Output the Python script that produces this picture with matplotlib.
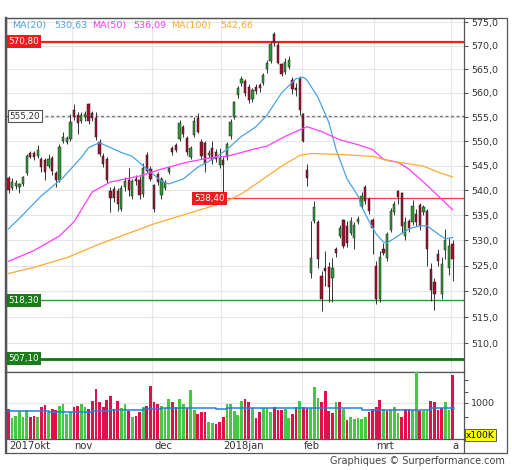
import matplotlib
matplotlib.use("Agg")
import matplotlib.pyplot as plt
import matplotlib.transforms as mtransforms
from matplotlib.lines import Line2D
from matplotlib.patches import Rectangle
from matplotlib.ticker import FixedLocator, FuncFormatter, NullLocator
import numpy as np

# ── daily OHLC, 2017-10-06 .. 2018-04-03 ───────────────────────────────────
opens = [542.6, 540.4, 540.8, 540.6, 541.2, 543.5, 547.6, 547.6, 547.0, 546.4,
         546.2, 545.0, 546.6, 543.6, 542.2, 550.0, 549.8, 550.4, 556.4, 555.4,
         554.2, 555.0, 557.6, 555.8, 554.8, 549.8, 547.0, 546.4, 539.8, 540.2,
         539.8, 536.2, 540.6, 542.0, 538.8, 542.4, 542.2, 539.2, 547.2, 544.4,
         541.0, 543.4, 539.0, 540.4, 543.8, 548.6, 549.2, 550.4, 553.0, 550.6,
         546.8, 551.2, 554.8, 549.8, 549.6, 547.2, 548.6, 547.8, 545.2, 546.2,
         546.8, 551.0, 555.0, 559.6, 562.0, 562.6, 561.3, 558.8, 561.2, 561.6,
         562.1, 565.0, 566.8, 572.4, 570.2, 566.0, 564.4, 565.4, 562.8, 561.0,
         563.2, 555.6, 544.2, 523.6, 533.9, 533.6, 523.0, 524.6, 524.8, 522.6,
         528.4, 530.9, 534.0, 532.8, 531.4, 530.4, 533.6, 536.8, 540.6, 538.2,
         534.0, 525.0, 518.6, 528.4, 526.6, 532.0, 535.6, 539.8, 539.4, 530.8,
         533.8, 533.6, 535.2, 537.0, 535.6, 535.9, 524.3, 521.8, 527.4, 519.6,
         528.2, 524.6, 529.3]
highs = [543.0, 542.5, 542.0, 541.5, 543.0, 547.4, 548.0, 547.9, 549.3, 546.8,
         546.6, 547.3, 547.0, 544.0, 549.4, 551.9, 551.0, 555.6, 557.6, 556.0,
         556.0, 556.2, 558.0, 556.2, 556.0, 550.4, 547.6, 546.8, 540.6, 540.8,
         540.4, 541.0, 542.8, 544.6, 542.4, 543.2, 543.0, 545.6, 547.8, 545.0,
         541.2, 543.8, 542.8, 542.0, 545.0, 549.0, 549.6, 554.4, 553.4, 551.0,
         549.0, 555.0, 555.8, 550.4, 550.0, 548.2, 550.0, 548.4, 548.6, 546.8,
         549.8, 554.6, 558.4, 561.4, 563.6, 563.0, 561.8, 561.0, 561.8, 562.0,
         564.2, 566.9, 570.8, 572.8, 570.8, 566.4, 567.4, 567.8, 563.4, 562.0,
         563.6, 555.8, 545.4, 533.8, 537.9, 534.0, 524.0, 528.0, 525.8, 526.6,
         528.8, 533.0, 534.2, 533.8, 534.6, 533.6, 534.8, 539.6, 541.0, 538.6,
         534.4, 526.0, 528.0, 529.4, 531.6, 536.4, 537.8, 540.0, 539.6, 534.6,
         534.2, 538.0, 536.2, 537.4, 537.0, 536.3, 525.5, 522.6, 528.4, 526.8,
         532.3, 530.4, 530.0]
lows = [539.5, 540.0, 540.2, 539.5, 540.8, 543.2, 546.5, 546.2, 546.6, 543.8,
        542.2, 544.6, 543.2, 540.6, 541.6, 549.6, 549.4, 550.0, 554.4, 551.4,
        553.8, 554.2, 553.6, 554.2, 550.2, 547.0, 544.8, 541.4, 535.6, 537.6,
        535.8, 535.8, 539.8, 538.8, 538.2, 541.0, 538.2, 538.6, 543.8, 541.8,
        535.6, 541.0, 538.2, 540.0, 543.4, 547.2, 547.8, 550.0, 550.8, 547.2,
        546.4, 550.8, 551.6, 546.4, 543.8, 546.6, 545.4, 545.8, 544.6, 538.4,
        546.2, 550.4, 554.6, 559.0, 561.4, 559.4, 558.0, 558.2, 559.8, 560.2,
        561.6, 564.2, 566.4, 570.0, 566.0, 563.6, 564.0, 565.0, 559.8, 559.4,
        555.4, 549.8, 540.8, 522.6, 533.4, 524.6, 516.2, 521.0, 518.0, 518.0,
        526.8, 530.4, 528.6, 528.8, 531.0, 528.4, 533.2, 536.2, 537.2, 535.2,
        527.4, 517.6, 518.0, 527.2, 526.0, 531.6, 535.0, 537.2, 531.4, 530.0,
        531.6, 533.0, 532.8, 532.0, 535.0, 524.9, 518.2, 516.4, 525.0, 518.6,
        526.4, 523.2, 522.1]
closes = [540.0, 541.6, 541.4, 541.2, 542.8, 547.0, 546.8, 546.8, 548.2, 544.8,
          543.8, 546.4, 544.0, 542.0, 548.8, 550.8, 550.6, 554.0, 555.0, 553.8,
          555.4, 555.6, 554.2, 554.8, 550.8, 547.4, 545.4, 542.0, 538.4, 538.4,
          537.2, 540.4, 541.8, 540.0, 541.8, 541.8, 539.0, 544.6, 544.0, 542.4,
          536.2, 541.6, 542.4, 541.6, 544.6, 547.8, 548.2, 553.8, 551.4, 547.8,
          548.6, 554.2, 552.0, 547.0, 545.4, 547.6, 546.2, 546.4, 546.6, 545.2,
          549.4, 554.0, 558.2, 561.0, 563.0, 560.0, 558.5, 560.6, 560.4, 561.0,
          563.8, 566.2, 570.4, 570.6, 566.4, 564.0, 566.6, 567.0, 560.8, 560.6,
          556.4, 550.0, 542.6, 526.6, 536.7, 526.4, 518.6, 524.0, 520.8, 524.6,
          527.6, 532.4, 529.0, 529.4, 533.8, 533.0, 534.2, 538.8, 537.8, 535.8,
          532.4, 518.6, 526.8, 527.6, 531.2, 535.8, 537.2, 538.6, 532.8, 533.6,
          532.4, 536.8, 533.6, 532.8, 536.6, 528.4, 520.2, 519.6, 525.9, 525.3,
          530.0, 529.0, 526.4]

# volume in x100K, and its up/down colouring
volume = [816, 569, 642, 770, 614, 789, 614, 642, 614, 871,
          935, 752, 825, 798, 908, 981, 688, 734, 880, 908,
          981, 880, 825, 1064, 1376, 1027, 880, 1091, 1183, 816,
          1055, 844, 954, 770, 614, 642, 752, 880, 917, 1467,
          1009, 981, 908, 844, 1119, 1009, 871, 1119, 981, 844,
          1366, 798, 679, 752, 734, 459, 431, 404, 459, 614,
          954, 954, 770, 660, 1055, 1119, 1009, 862, 569, 752,
          862, 862, 752, 889, 798, 798, 816, 587, 679, 889,
          1055, 889, 862, 844, 1440, 1146, 1009, 1339, 770, 706,
          1009, 1009, 825, 523, 614, 550, 587, 550, 614, 752,
          825, 889, 1091, 825, 770, 798, 889, 706, 614, 825,
          825, 798, 1900, 770, 770, 770, 1055, 1009, 798, 844,
          1027, 798, 1779]
vol_up = [0, 1, 1, 1, 1, 1, 0, 0, 1, 0, 0, 1, 0, 0, 1, 1, 1, 1, 0, 0,
          1, 1, 0, 0, 0, 0, 0, 0, 0, 0, 0, 1, 1, 0, 1, 0, 0, 1, 0, 0,
          0, 0, 1, 1, 1, 0, 0, 1, 1, 0, 1, 1, 0, 0, 0, 1, 1, 0, 0, 0,
          1, 1, 1, 1, 1, 0, 0, 1, 0, 0, 1, 1, 1, 0, 0, 0, 1, 1, 0, 0,
          1, 0, 0, 1, 1, 1, 0, 0, 0, 0, 1, 0, 1, 0, 1, 1, 1, 1, 1, 0,
          0, 0, 0, 1, 0, 1, 1, 1, 0, 0, 0, 1, 1, 0, 1, 1, 0, 0, 0, 0,
          1, 1, 0]

ma20_idx = [0, 3, 9, 15, 20, 22, 25, 28, 31, 34, 38, 42, 44, 48, 52, 56, 60, 64, 68, 71,
            75, 79, 81, 82, 85, 88, 90, 93, 96, 97, 99, 101, 103, 104, 107, 110, 113,
            115, 118, 120, 122]
ma20_val = [532.3, 534.4, 538.9, 542.6, 546.7, 548.7, 549.7, 548.7, 547.7, 546.9, 544.3,
            541.9, 541.3, 542.3, 544.7, 546.3, 548.3, 551.0, 553.0, 555.4, 560.0, 563.0,
            563.3, 562.7, 559.1, 553.9, 548.3, 542.3, 538.9, 536.7, 533.9, 531.3, 529.7,
            529.5, 530.9, 532.3, 532.9, 532.9, 531.3, 530.3, 530.6]
ma50_idx = [0, 7, 14, 18, 23, 28, 36, 42, 49, 56, 60, 64, 68, 71, 76, 82, 86, 91, 96,
            100, 103, 107, 110, 114, 118, 122]
ma50_val = [525.9, 528.0, 530.9, 533.7, 539.7, 541.7, 542.9, 544.3, 545.7, 546.7, 546.9,
            547.7, 548.5, 549.0, 551.0, 553.0, 552.0, 550.3, 549.3, 548.3, 546.3, 545.7,
            544.3, 541.7, 538.9, 536.1]
ma100_idx = [0, 7, 16, 25, 34, 40, 49, 59, 64, 68, 75, 80, 83, 91, 100, 105, 109, 114,
             118, 122]
ma100_val = [523.5, 524.7, 526.6, 529.3, 531.7, 533.3, 535.3, 537.5, 539.3, 541.3, 544.9,
             547.1, 547.5, 547.3, 546.9, 545.9, 545.5, 544.9, 543.7, 542.7]
volma_idx = [-0.5, 11, 23, 28, 37, 42, 57, 60, 97, 111, 116, 122.5]
volma_val = [770, 734, 770, 789, 816, 844, 816, 844, 807, 789, 844, 844]

# support / resistance levels
res_high, res_mid, res_low = 570.80, 555.20, 538.40
sup_high, sup_low = 518.30, 507.10

month_idx = [0, 18, 40, 59, 81, 101, 122]
month_lbl = ["2017okt", "nov", "dec", "2018jan", "feb", "mrt", "a"]
price_ticks = [510, 515, 520, 525, 530, 535, 540, 545, 550, 555, 560, 565, 570, 575]

GREEN, RED, WICK = "#2f9a34", "#a3102e", "#333333"
VGREEN, VRED = "#46c846", "#e0104c"
C20, C50, C100 = "#4aa3e6", "#ff3cff", "#ffaa30"
GRID, FRAME, TXT = "#e6e6e6", "#555555", "#333333"

W, H = 512, 470
def rect(x0, y0, x1, y1):
    return [x0 / W, 1 - y1 / H, (x1 - x0) / W, (y1 - y0) / H]

fig = plt.figure(figsize=(W / 100, H / 100), dpi=100)
fig.patch.set_facecolor("white")
ax = fig.add_axes(rect(6, 18, 464, 372))
axv = fig.add_axes(rect(6, 372, 464, 439), sharex=ax)

x = np.arange(len(closes))
o, h, l, c = map(np.array, (opens, highs, lows, closes))
up = c >= o

# ── price pane ───────────────────────────────────────────────────────────
ax.set_yscale("log")
ax.set_ylim(504.6, 575.9)
ax.set_xlim(-0.69, 125.13)

bounds = [m - 0.5 for m in month_idx[1:]]
ax.set_xticks(bounds)
ax.tick_params(axis="x", length=0, labelbottom=False)
ax.grid(axis="both", color=GRID, lw=0.8, zorder=0)
ax.set_axisbelow(True)

ax.yaxis.tick_right()
ax.yaxis.set_major_locator(FixedLocator(price_ticks))
ax.yaxis.set_minor_locator(NullLocator())
ax.yaxis.set_major_formatter(FuncFormatter(lambda v, p: f"{v:.1f}".replace(".", ",")))
ax.tick_params(axis="y", length=3, width=0.8, color=FRAME, pad=2, labelsize=6.8,
               labelcolor=TXT)

ax.vlines(x, l, h, color=WICK, lw=0.7, zorder=3)
ax.bar(x, np.maximum(np.abs(c - o), 0.25), bottom=np.minimum(o, c), width=0.62,
       color=np.where(up, GREEN, RED), edgecolor="#1e1e1e", linewidth=0.35, zorder=4)

ax.plot(ma20_idx, ma20_val, color=C20, lw=0.9, zorder=5)
ax.plot(ma50_idx, ma50_val, color=C50, lw=0.9, zorder=5)
ax.plot(ma100_idx, ma100_val, color=C100, lw=0.9, zorder=5)

ax.axhline(res_high, color="#ff1a1a", lw=1.6, zorder=2)
ax.axhline(res_mid, color="#777777", lw=1.0, ls=(0, (2.2, 1.8)), zorder=2)
ax.hlines(res_low, 60, 125.2, color="#ff3a3a", lw=0.9, zorder=2)
ax.axhline(sup_high, color="#2aa02a", lw=1.0, zorder=2)
ax.axhline(sup_low, color="#0b7a0b", lw=2.0, zorder=2)

lvl = mtransforms.blended_transform_factory(ax.transAxes, ax.transData)
def level_label(xv, yv, s, fc, tc="white", ec="none", tr=lvl):
    ax.text(xv, yv, s, transform=tr, ha="left", va="center", fontsize=6.3, color=tc,
            zorder=7, bbox=dict(boxstyle="square,pad=0.22", fc=fc, ec=ec, lw=0.8))

level_label(0.006, res_high, "570,80", "#ee1c1c")
level_label(0.008, res_mid, "555,20", "white", tc=TXT, ec="#555555")
level_label(51.0, res_low, "538,40", "#ee1c1c", tr=ax.transData)
level_label(0.006, sup_high, "518,30", "#1a7d1a")
level_label(0.006, sup_low, "507,10", "#1a7d1a")

for s in ax.spines.values():
    s.set_color(FRAME)
    s.set_linewidth(0.9)
ax.spines["left"].set_linewidth(1.6)

# ── volume pane ──────────────────────────────────────────────────────────
axv.set_ylim(0, 1852)
axv.bar(x, volume, width=0.74, color=np.where(np.array(vol_up) == 1, VGREEN, VRED),
        linewidth=0, zorder=3)
axv.step(volma_idx, volma_val, where="post", color="#1f7fe0", lw=1.1, zorder=4)
axv.axhline(1000, color=GRID, lw=0.8, zorder=0)
axv.set_xticks(bounds)
axv.grid(axis="x", color=GRID, lw=0.8, zorder=0)
axv.set_axisbelow(True)
axv.tick_params(axis="x", length=0, labelbottom=False)
axv.yaxis.tick_right()
axv.yaxis.set_major_locator(FixedLocator([600, 1000, 1300, 1620]))
axv.yaxis.set_major_formatter(FuncFormatter(lambda v, p: "1000" if v == 1000 else ""))
axv.tick_params(axis="y", length=3, width=0.8, color=FRAME, pad=2, labelsize=6.8,
                labelcolor=TXT)
for s in axv.spines.values():
    s.set_color(FRAME)
    s.set_linewidth(0.9)
axv.spines["left"].set_linewidth(1.6)

mt = mtransforms.blended_transform_factory(axv.transData, axv.transAxes)
for i, (m, s) in enumerate(zip(month_idx, month_lbl)):
    xm = m - 0.5 + 0.55 if i else 0.3
    axv.text(xm, -0.11, s, transform=mt, ha="left", va="center", fontsize=7.2, color=TXT)

# ── frame, legend, footer ────────────────────────────────────────────────
fig.add_artist(Rectangle((6 / W, 1 - 453 / H), 501 / W, 435 / H, transform=fig.transFigure,
                         fill=False, ec=FRAME, lw=0.9))
fig.add_artist(Line2D([464 / W, 464 / W], [1 - 453 / H, 1 - 439 / H],
                      transform=fig.transFigure, color=FRAME, lw=0.9))
fig.add_artist(Line2D([6 / W, 6 / W], [1 - 453 / H, 1 - 18 / H],
                      transform=fig.transFigure, color=FRAME, lw=1.6))

for px, s, col in [(12.5, "MA(20)", C20), (54, "530,63", C20),
                   (92, "MA(50)", C50), (133, "536,09", C50),
                   (171.5, "MA(100)", C100), (220, "542,66", C100)]:
    fig.text(px / W, 1 - 25.5 / H, s, ha="left", va="center", fontsize=6.8, color=col)

fig.text(466 / W, 1 - 435 / H, "x100K", ha="left", va="center", fontsize=6.6, color="black",
         bbox=dict(boxstyle="square,pad=0.12", fc="#ffff00", ec="#444444", lw=0.6))
fig.text(505 / W, 1 - 461.5 / H, "Graphiques \u00a9 Surperformance.com", ha="right",
         va="center", fontsize=7.0, color="#444444")

fig.savefig("out.png", dpi=100, facecolor="white")
